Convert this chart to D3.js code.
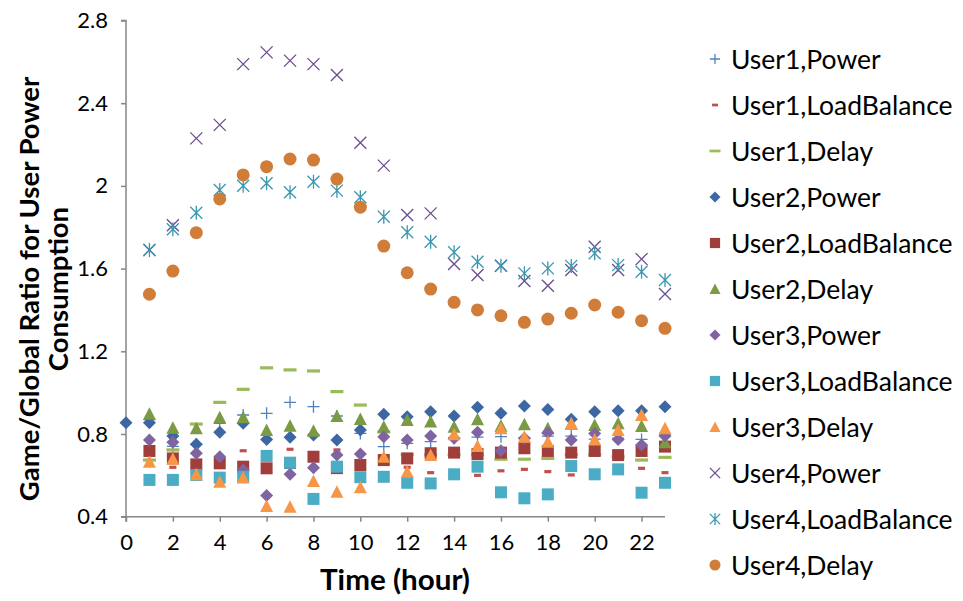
<!DOCTYPE html>
<html>
<head>
<meta charset="utf-8">
<script src="https://cdn.jsdelivr.net/npm/d3@7"></script>
<style>
  html, body { margin: 0; padding: 0; background: #fff; }
  svg { display: block; }
  text { font-family: Lato, "Open Sans", sans-serif; fill: #000; }
</style>
</head>
<body>
<svg id="chart" width="963" height="601"></svg>
<script>
// Hours of the day (x values)
const hours = d3.range(0, 24);

// Game/Global ratio per hour for each user and policy (null = no sample)
const user1Power       = [null, 0.87, 0.74, 0.75, 0.852, 0.892, 0.90, 0.953, 0.932, 0.887, 0.803, 0.739, 0.755, 0.763, 0.78, 0.785, 0.787, 0.78, 0.79, 0.79, 0.775, 0.78, 0.774, 0.80];
const user1LoadBalance = [null, 0.718, 0.639, 0.653, 0.658, 0.719, 0.634, 0.726, 0.69, 0.723, 0.65, 0.674, 0.639, 0.613, 0.71, 0.600, 0.622, 0.629, 0.618, 0.602, 0.718, 0.698, 0.634, 0.613];
const user1Delay       = [null, 0.674, 0.723, 0.848, 0.953, 1.016, 1.12, 1.11, 1.105, 1.005, 0.94, 0.81, 0.70, 0.70, 0.70, 0.70, 0.678, 0.678, 0.682, 0.70, 0.70, 0.69, 0.674, 0.687];
const user2Power       = [0.855, 0.855, 0.79, 0.75, 0.808, 0.852, 0.774, 0.784, 0.795, 0.771, 0.819, 0.895, 0.884, 0.908, 0.887, 0.929, 0.90, 0.935, 0.919, 0.871, 0.908, 0.913, 0.913, 0.932];
const user2LoadBalance = [null, 0.718, 0.682, 0.653, 0.658, 0.642, 0.634, 0.66, 0.69, 0.635, 0.65, 0.674, 0.682, 0.707, 0.71, 0.703, 0.71, 0.731, 0.718, 0.71, 0.718, 0.698, 0.718, 0.739];
const user2Delay       = [null, 0.898, 0.83, 0.828, 0.881, 0.881, 0.819, 0.84, 0.816, 0.887, 0.873, 0.835, 0.868, 0.86, 0.835, 0.871, 0.84, 0.847, 0.828, 0.85, 0.843, 0.852, 0.839, 0.76];
const user3Power       = [null, 0.771, 0.76, 0.707, 0.69, 0.626, 0.502, 0.605, 0.637, 0.698, 0.703, 0.787, 0.771, 0.79, 0.779, 0.808, 0.719, 0.78, 0.806, 0.771, 0.803, 0.774, 0.747, 0.79];
const user3LoadBalance = [null, 0.578, 0.578, 0.602, 0.589, 0.593, 0.694, 0.661, 0.486, 0.642, 0.591, 0.593, 0.564, 0.561, 0.605, 0.642, 0.518, 0.489, 0.508, 0.645, 0.605, 0.629, 0.516, 0.564];
const user3Delay       = [null, 0.666, 0.68, 0.605, 0.569, 0.59, 0.452, 0.448, 0.573, 0.521, 0.542, 0.69, 0.618, 0.698, 0.799, 0.742, 0.828, 0.787, 0.763, 0.852, 0.774, 0.819, 0.892, 0.828];
const user4Power       = [null, 1.69, 1.81, 2.23, 2.295, 2.589, 2.646, 2.606, 2.589, 2.536, 2.209, 2.098, 1.859, 1.867, 1.622, 1.569, 1.614, 1.54, 1.517, 1.593, 1.706, 1.593, 1.646, 1.477];
const user4LoadBalance = [null, 1.69, 1.79, 1.87, 1.98, 2.001, 2.013, 1.969, 2.02, 1.977, 1.945, 1.851, 1.776, 1.73, 1.679, 1.633, 1.614, 1.577, 1.601, 1.613, 1.674, 1.617, 1.585, 1.545];
const user4Delay       = [null, 1.476, 1.588, 1.774, 1.937, 2.053, 2.093, 2.13, 2.125, 2.033, 1.897, 1.709, 1.58, 1.501, 1.437, 1.40, 1.372, 1.34, 1.356, 1.384, 1.424, 1.389, 1.348, 1.311];

// Axis tick values
const xTicks = d3.range(0, 23, 2);
const yTicks = [0.4, 0.8, 1.2, 1.6, 2.0, 2.4, 2.8];

// Series: name, values, marker kind, colour
const series = [
  { name: "User1,Power",       values: user1Power,       marker: "plus",     color: "#4F81BD" },
  { name: "User1,LoadBalance", values: user1LoadBalance, marker: "dash",     color: "#C0504D" },
  { name: "User1,Delay",       values: user1Delay,       marker: "longdash", color: "#9BBB59" },
  { name: "User2,Power",       values: user2Power,       marker: "diamond",  color: "#3D67A3" },
  { name: "User2,LoadBalance", values: user2LoadBalance, marker: "square",   color: "#A03E3B" },
  { name: "User2,Delay",       values: user2Delay,       marker: "triangle", color: "#7B9A44" },
  { name: "User3,Power",       values: user3Power,       marker: "diamond",  color: "#8064A2" },
  { name: "User3,LoadBalance", values: user3LoadBalance, marker: "square",   color: "#4BACC6" },
  { name: "User3,Delay",       values: user3Delay,       marker: "triangle", color: "#F79646" },
  { name: "User4,Power",       values: user4Power,       marker: "x",        color: "#6A4E8E" },
  { name: "User4,LoadBalance", values: user4LoadBalance, marker: "asterisk", color: "#3A97AE" },
  { name: "User4,Delay",       values: user4Delay,       marker: "circle",   color: "#D07D3A" }
];

const svg = d3.select("#chart");
const axisColor = "#868686";

const x = d3.scaleLinear().domain([0, 23]).range([126, 665]);
const y = d3.scaleLinear().domain([0.4, 2.8]).range([516.7, 20.5]);

// Draws one marker of the given kind, centred on the group's origin
function drawMarker(g, kind, color, s) {
  s = s || 1;
  switch (kind) {
    case "plus":
      g.append("path").attr("d", `M${-6*s},0H${6*s}M0,${-6*s}V${6*s}`)
        .attr("stroke", color).attr("stroke-width", 1.3).attr("fill", "none");
      break;
    case "dash":
      g.append("rect").attr("x", -3.5*s).attr("y", -1.6*s).attr("width", 7*s).attr("height", 3.2*s)
        .attr("fill", color);
      break;
    case "longdash":
      g.append("rect").attr("x", -6.5*s).attr("y", -1.6*s).attr("width", 13*s).attr("height", 3.2*s)
        .attr("fill", color);
      break;
    case "diamond":
      g.append("path").attr("d", `M0,${-6.5*s}L${6.5*s},0L0,${6.5*s}L${-6.5*s},0Z`)
        .attr("fill", color);
      break;
    case "square":
      g.append("rect").attr("x", -6*s).attr("y", -6*s).attr("width", 12*s).attr("height", 12*s)
        .attr("fill", color);
      break;
    case "triangle":
      g.append("path").attr("d", `M0,${-6.5*s}L${6.5*s},${6*s}L${-6.5*s},${6*s}Z`)
        .attr("fill", color);
      break;
    case "x":
      g.append("path").attr("d", `M${-6*s},${-6*s}L${6*s},${6*s}M${-6*s},${6*s}L${6*s},${-6*s}`)
        .attr("stroke", color).attr("stroke-width", 1.3).attr("fill", "none");
      break;
    case "asterisk":
      g.append("path").attr("d", `M${-6*s},${-6*s}L${6*s},${6*s}M${-6*s},${6*s}L${6*s},${-6*s}M0,${-7*s}V${7*s}`)
        .attr("stroke", color).attr("stroke-width", 1.3).attr("fill", "none");
      break;
    case "circle":
      g.append("circle").attr("r", 6.5*s).attr("fill", color);
      break;
  }
}

// Axes
const yAxis = svg.append("g")
  .attr("transform", `translate(${x(0)},0)`)
  .call(d3.axisLeft(y).tickValues(yTicks).tickSize(5).tickPadding(13)
    .tickFormat(d => d3.format("")(+d.toFixed(1))));
const xAxis = svg.append("g")
  .attr("transform", `translate(0,${y(0.4)})`)
  .call(d3.axisBottom(x).tickValues(xTicks).tickSize(5).tickPadding(13).tickFormat(d3.format("d")));

[yAxis, xAxis].forEach(a => {
  a.select(".domain").attr("stroke", axisColor).attr("stroke-width", 1.5);
  a.selectAll(".tick line").attr("stroke", axisColor).attr("stroke-width", 1.5);
  a.selectAll(".tick text").attr("font-family", "Lato, sans-serif").attr("font-size", 22).attr("fill", "#000");
});
yAxis.select(".domain").attr("d", `M-5,${y(2.8)}H0V${y(0.4)}H-5`);
xAxis.select(".domain").attr("d", `M${x(0)},5V0H${x(23)}`);

// Points
const plot = svg.append("g");
series.forEach(sr => {
  const g = plot.append("g");
  hours.forEach((h, i) => {
    const v = sr.values[i];
    if (v == null) return;
    const mg = g.append("g").attr("transform", `translate(${x(h)},${y(v)})`);
    drawMarker(mg, sr.marker, sr.color);
  });
});

// Axis titles
svg.append("text")
  .attr("x", 395).attr("y", 590)
  .attr("text-anchor", "middle")
  .attr("font-size", 28).attr("font-weight", "bold")
  .attr("textLength", 150).attr("lengthAdjust", "spacingAndGlyphs")
  .text("Time (hour)");

const yTitleLines = ["Game/Global Ratio for User Power", "Consumption"];
yTitleLines.forEach((line, i) => {
  svg.append("text")
    .attr("transform", `translate(${29 + i * 29},289) rotate(-90)`)
    .attr("text-anchor", "middle").attr("dy", "0.35em")
    .attr("font-size", 27.5).attr("font-weight", "bold")
    .text(line);
});

// Legend
const legend = svg.append("g");
series.forEach((sr, i) => {
  const row = legend.append("g").attr("transform", `translate(715,${59 + i * 46})`);
  drawMarker(row, sr.marker, sr.color, 0.85);
  row.append("text").attr("x", 16).attr("dy", "0.36em")
    .attr("font-size", 26.5).text(sr.name);
});
</script>
</body>
</html>
